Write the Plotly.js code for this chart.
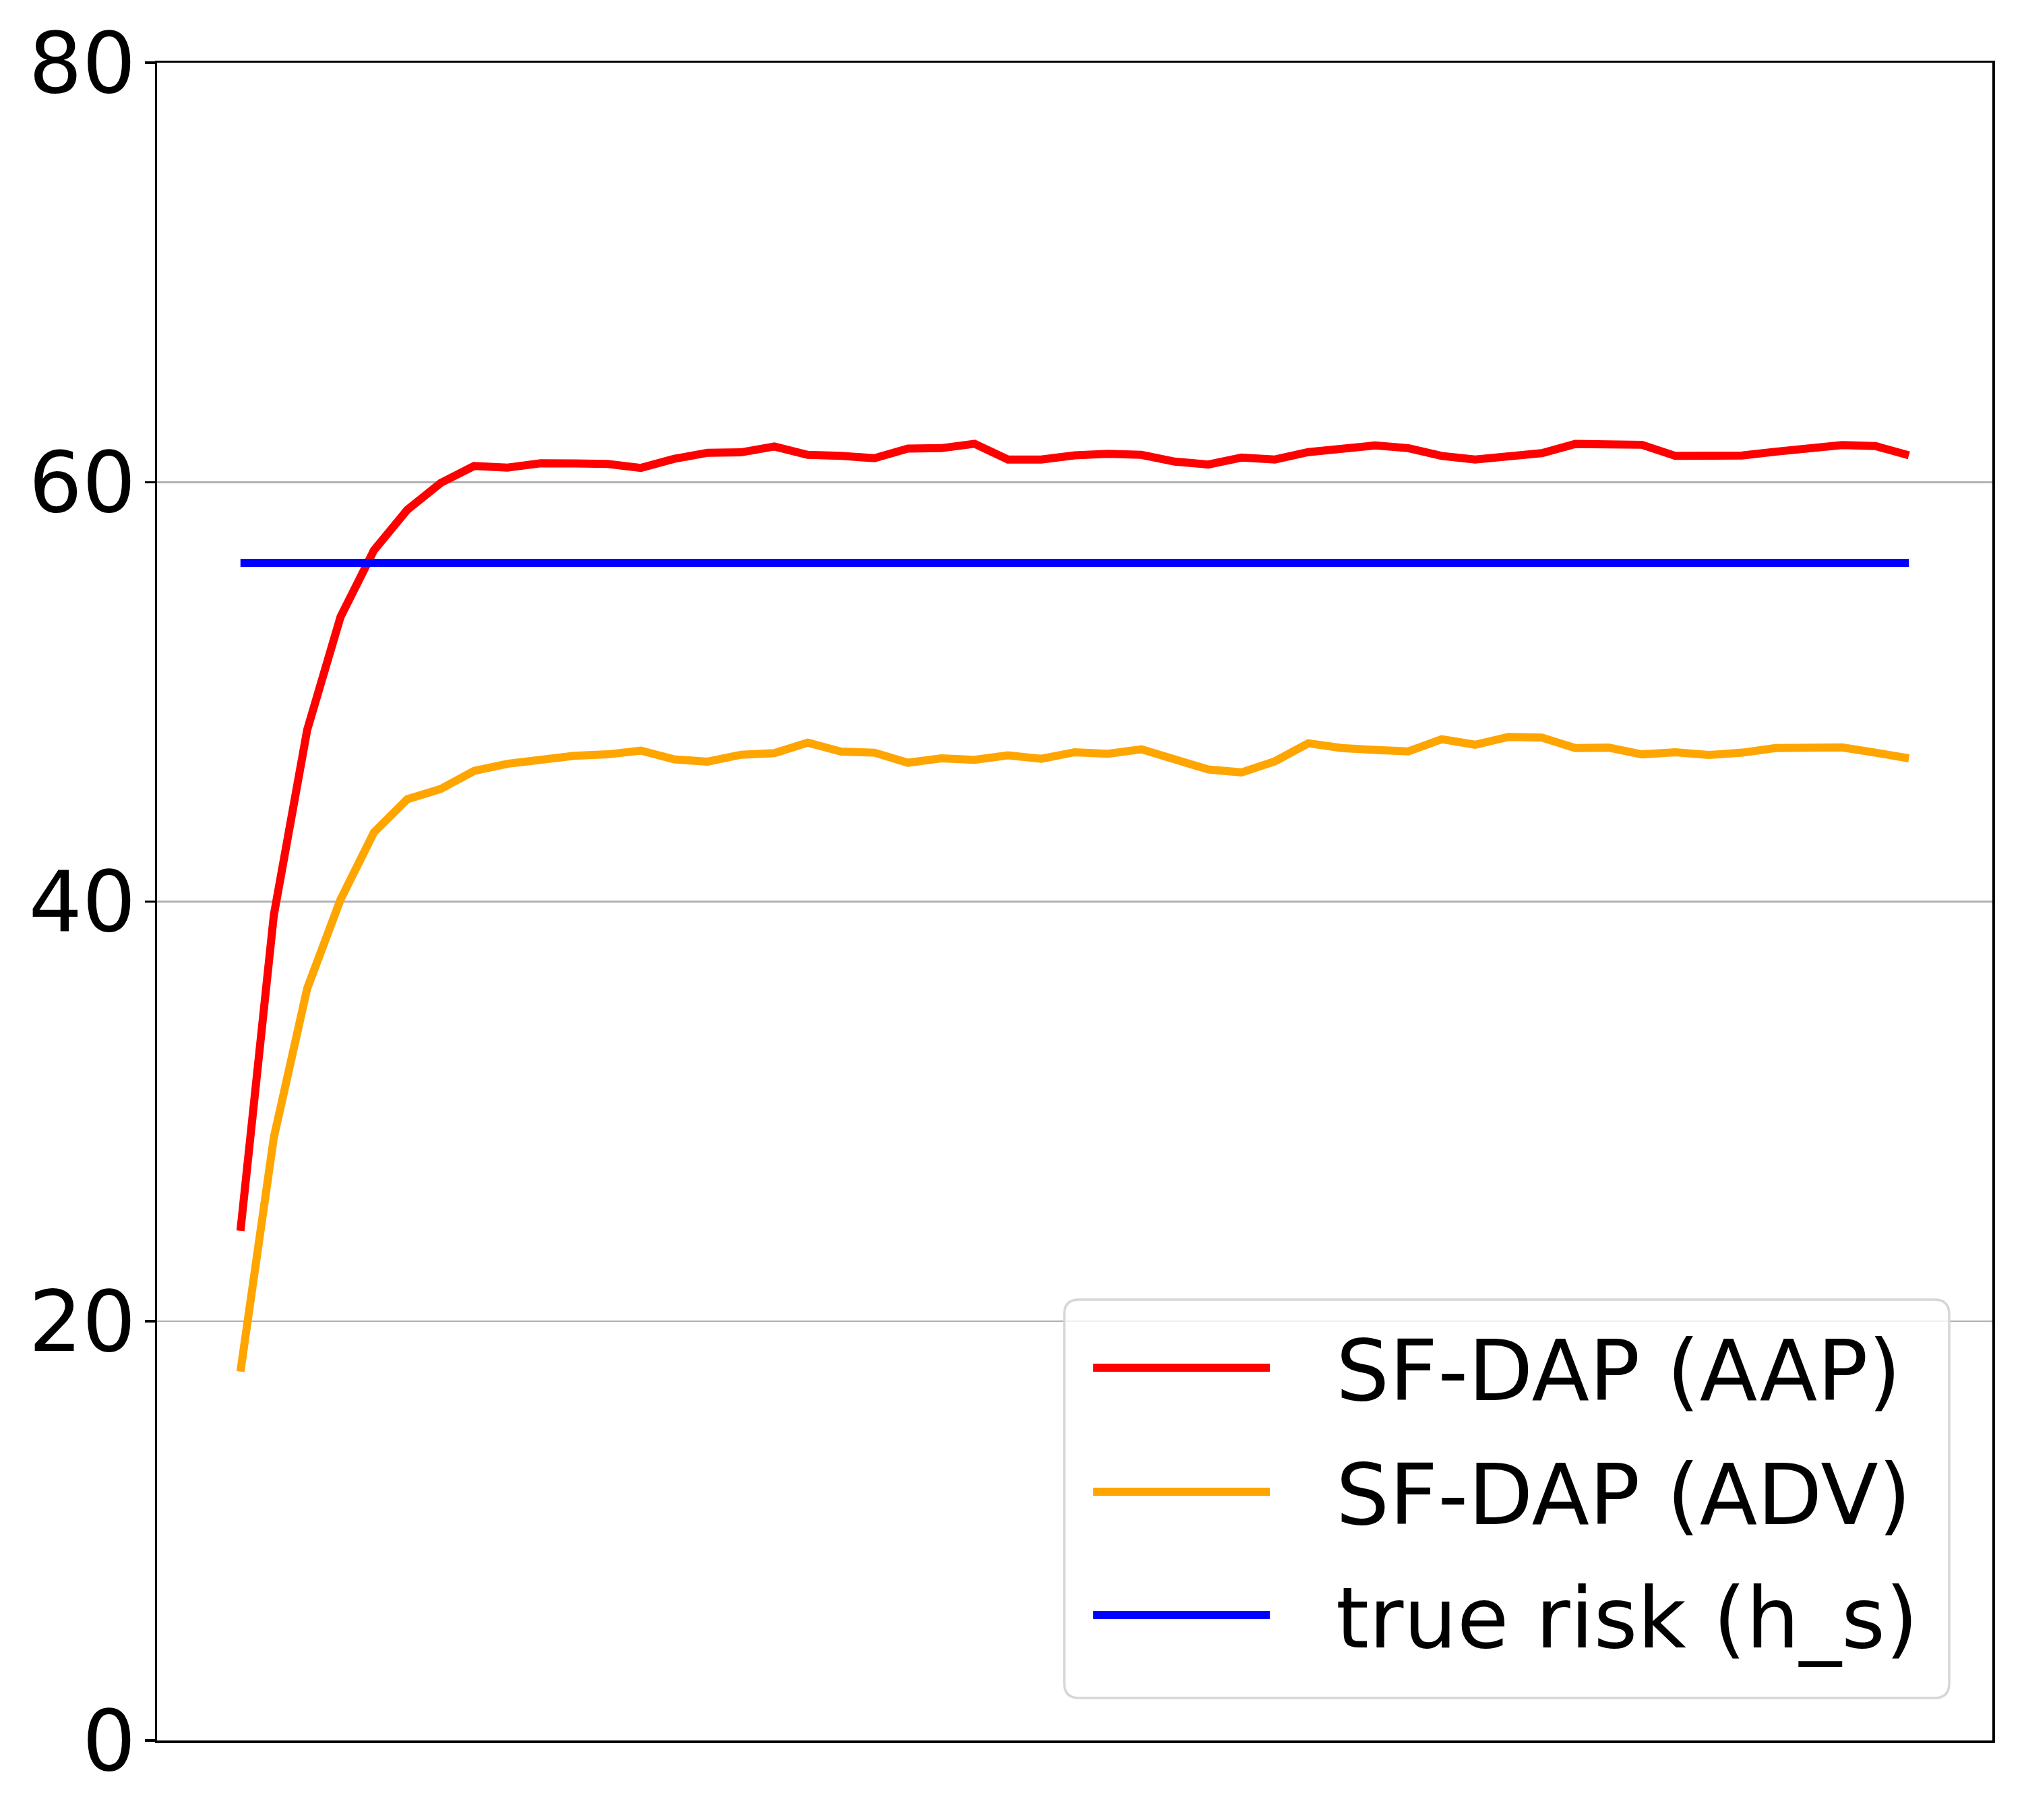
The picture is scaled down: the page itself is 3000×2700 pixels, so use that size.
<!DOCTYPE html>
<html>
<head>
<meta charset="utf-8">
<script src="https://cdn.plot.ly/plotly-3.0.1.min.js"></script>
<style>
  html, body { margin: 0; padding: 0; background: #ffffff; }
  #chart { width: 3000px; height: 2700px; }
</style>
</head>
<body>
<div id="chart"></div>
<script>
// ---- data ----
const seriesNames = ["SF-DAP (AAP)", "SF-DAP (ADV)", "true risk (h_s)"];

const aapValues = [24.3, 39.35, 48.19, 53.58, 56.75, 58.68, 59.96, 60.77, 60.69, 60.9,
  60.89, 60.87, 60.68, 61.11, 61.4, 61.42, 61.7, 61.3, 61.25, 61.14,
  61.6, 61.62, 61.83, 61.08, 61.08, 61.28, 61.35, 61.3, 60.98, 60.84,
  61.17, 61.08, 61.43, 61.55, 61.75, 61.62, 61.25, 61.08, 61.22, 61.38,
  61.82, 61.8, 61.78, 61.25, 61.28, 61.27, 61.45, 61.6, 61.77, 61.72, 61.28];

const advValues = [17.59, 28.75, 35.86, 40.1, 43.3, 44.88, 45.37, 46.23, 46.57, 46.75,
  46.95, 47.02, 47.2, 46.78, 46.67, 47.0, 47.08, 47.58, 47.15, 47.1,
  46.62, 46.83, 46.76, 46.97, 46.81, 47.12, 47.05, 47.26, 46.73, 46.3,
  46.16, 46.69, 47.55, 47.32, 47.23, 47.16, 47.74, 47.48, 47.85, 47.82,
  47.32, 47.34, 47.02, 47.12, 46.99, 47.1, 47.32, 47.37, 47.35, 47.1, 46.83];

const trueRisk = 56.15;

const yTickVals = [0, 20, 40, 60, 80];
const yTickText = ["0", "20", "40", "60", "80"];

// ---- build ----
const xs = aapValues.map((_, i) => i);
const riskValues = xs.map(() => trueRisk);

const colors = ["#ff0000", "#ffa500", "#0000ff"];
const lw = 12;

const traces = [
  { x: xs, y: aapValues, name: seriesNames[0], mode: "lines", line: { color: colors[0], width: lw } },
  { x: xs, y: advValues, name: seriesNames[1], mode: "lines", line: { color: colors[1], width: lw } },
  { x: xs, y: riskValues, name: seriesNames[2], mode: "lines", line: { color: colors[2], width: lw } }
];

const n = xs.length - 1;
const pad = n * 0.05;

// plot area geometry in page pixels (for placing the legend box)
const W = 3000, H = 2700;
const M = { l: 233, r: 44, t: 93, b: 118 };
const PW = W - M.l - M.r, PH = H - M.t - M.b;
const px = v => (v - M.l) / PW;
const py = v => (H - M.b - v) / PH;

// legend box (rounded rectangle)
const bx0 = 1579, bx1 = 2892, by0 = 1928, by1 = 2519, rad = 22;
const rx = rad / PW, ry = rad / PH;
const X0 = px(bx0), X1 = px(bx1), Ytop = py(by0), Ybot = py(by1);
const boxPath =
  `M ${X0 + rx},${Ytop} L ${X1 - rx},${Ytop} Q ${X1},${Ytop} ${X1},${Ytop - ry} ` +
  `L ${X1},${Ybot + ry} Q ${X1},${Ybot} ${X1 - rx},${Ybot} ` +
  `L ${X0 + rx},${Ybot} Q ${X0},${Ybot} ${X0},${Ybot + ry} ` +
  `L ${X0},${Ytop - ry} Q ${X0},${Ytop} ${X0 + rx},${Ytop} Z`;

const rowY = [2029, 2213, 2396];
const sampleX0 = 1622, sampleX1 = 1884, textX = 1980;

const shapes = [
  { type: "path", xref: "paper", yref: "paper", path: boxPath,
    fillcolor: "rgba(255,255,255,0.8)", line: { color: "#d6d6d6", width: 3.5 }, layer: "above" }
];
const annotations = [];
seriesNames.forEach((name, i) => {
  shapes.push({ type: "line", xref: "paper", yref: "paper",
    x0: px(sampleX0), x1: px(sampleX1), y0: py(rowY[i]), y1: py(rowY[i]),
    line: { color: colors[i], width: lw }, layer: "above" });
  annotations.push({ xref: "paper", yref: "paper", x: px(textX), y: py(rowY[i] + 4),
    xanchor: "left", yanchor: "middle", showarrow: false, text: name,
    font: { family: "DejaVu Sans", size: 125, color: "#000000" } });
});

const layout = {
  width: W,
  height: H,
  margin: { l: M.l, r: M.r, t: M.t, b: M.b, pad: 0 },
  paper_bgcolor: "#ffffff",
  plot_bgcolor: "#ffffff",
  font: { family: "DejaVu Sans", size: 125, color: "#000000" },
  showlegend: false,
  xaxis: {
    range: [-pad, n + pad],
    showticklabels: false,
    ticks: "",
    showgrid: false,
    zeroline: false,
    showline: true,
    linecolor: "#000000",
    linewidth: 3.5,
    mirror: true
  },
  yaxis: {
    range: [0, 80],
    tickmode: "array",
    tickvals: yTickVals,
    ticktext: yTickText,
    ticks: "outside",
    ticklen: 15,
    tickwidth: 3.5,
    tickcolor: "#000000",
    ticklabelstandoff: -12,
    tickfont: { family: "DejaVu Sans", size: 125, color: "#000000" },
    showgrid: true,
    gridcolor: "#b0b0b0",
    gridwidth: 2.5,
    zeroline: false,
    showline: true,
    linecolor: "#000000",
    linewidth: 3.5,
    mirror: true
  },
  shapes: shapes,
  annotations: annotations
};

Plotly.newPlot("chart", traces, layout, { displayModeBar: false, staticPlot: true });
</script>
</body>
</html>
